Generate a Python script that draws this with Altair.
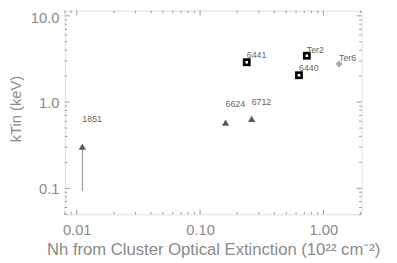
import altair as alt
import pandas as pd

# ---- data ----
names = ["1851", "6624", "6712", "6441", "Ter2", "6440", "Ter6"]
nh = [0.0111, 0.161, 0.262, 0.239, 0.734, 0.634, 1.34]
kt = [0.305, 0.58, 0.64, 2.9, 3.45, 2.05, 2.76]
kind = ["tri", "tri", "tri", "sq", "sq", "sq", "dia"]
label_kt = [0.64, 0.95, 1.0, 3.53, 4.0, 2.5, 3.28]

# lower-limit line for 1851
err_nh = [0.0111]
err_lo = [0.093]
err_hi = [0.305]

x_major = [0.01, 0.1, 1.0]
x_minor = [0.008, 0.009, 0.02, 0.03, 0.04, 0.05, 0.06, 0.07, 0.08, 0.09,
           0.2, 0.3, 0.4, 0.5, 0.6, 0.7, 0.8, 0.9, 2.0]
y_major = [0.1, 1.0, 10.0]
y_minor = [0.05, 0.06, 0.07, 0.08, 0.09, 0.2, 0.3, 0.4, 0.5, 0.6, 0.7, 0.8, 0.9,
           2, 3, 4, 5, 6, 7, 8, 9]

x_domain = [0.008, 2.04]
y_domain = [0.05, 11.5]

W, H = 303, 208
GRAY = "#9a9a9a"
TXT = "#8a8a8a"
FONT = "Liberation Sans"

df = pd.DataFrame({"name": names, "nh": nh, "kt": kt, "kind": kind, "lkt": label_kt})

xs = alt.Scale(type="log", domain=x_domain, nice=False)
ys = alt.Scale(type="log", domain=y_domain, nice=False)

x_axis = alt.Axis(values=x_major, format=".2f", grid=False, ticks=False, domain=False,
                  labelFont=FONT, labelFontSize=15, labelColor=TXT, labelPadding=9,
                  title="Nh from Cluster Optical Extinction (10²² cm⁻²)",
                  titleFont=FONT, titleFontSize=17, titleFontWeight="normal",
                  titleColor=TXT, titleY=36, titleBaseline="middle")
y_axis = alt.Axis(values=y_major, format=".1f", grid=False, ticks=False, domain=False,
                  labelFont=FONT, labelFontSize=15, labelColor=TXT, labelPadding=6,
                  labelOffset={"condition": {"test": "datum.value > 5", "value": 2}, "value": 0},
                  title="kTin (keV)", titleFont=FONT, titleFontSize=15,
                  titleFontWeight="normal", titleColor=TXT,
                  titleX=-50, titleY=100, titleBaseline="middle", titleAlign="center")


def X(field):
    return alt.X(field, scale=xs, axis=x_axis)


def Y(field):
    return alt.Y(field, scale=ys, axis=y_axis)


base = alt.Chart(df)

err = alt.Chart(pd.DataFrame({"nh": err_nh, "kt": err_lo, "hi": err_hi})).mark_rule(
    color="#8a8a8a", strokeWidth=1).encode(x=X("nh:Q"), y=Y("kt:Q"), y2="hi:Q")

tri = base.transform_filter("datum.kind == 'tri'").mark_point(
    shape="triangle-up", filled=True, color="#5a5a5a", size=55, opacity=1).encode(
    x=X("nh:Q"), y=Y("kt:Q"))

sq_outer = base.transform_filter("datum.kind == 'sq'").mark_point(
    shape="square", filled=True, color="#000000", size=64, opacity=1).encode(
    x=X("nh:Q"), y=Y("kt:Q"))
sq_inner = base.transform_filter("datum.kind == 'sq'").mark_point(
    shape="square", filled=True, color="#ffffff", size=7, opacity=1).encode(
    x=X("nh:Q"), y=Y("kt:Q"))

dia = base.transform_filter("datum.kind == 'dia'").mark_point(
    shape="diamond", filled=True, color="#a8a8a8", size=50, opacity=1).encode(
    x=X("nh:Q"), y=Y("kt:Q"))

labels = base.mark_text(align="left", baseline="middle", font=FONT, fontSize=9,
                        color="#666666").encode(
    x=X("nh:Q"), y=Y("lkt:Q"), text="name:N")


def xticks(vals, length):
    d = alt.Chart(pd.DataFrame({"nh": vals}))
    bottom = d.mark_rule(color=GRAY).encode(
        x=X("nh:Q"), y=alt.value(H), y2=alt.value(H - length))
    top = d.mark_rule(color=GRAY).encode(
        x=X("nh:Q"), y=alt.value(0), y2=alt.value(length))
    return [bottom, top]


def yticks(vals, length):
    d = alt.Chart(pd.DataFrame({"kt": vals}))
    left = d.mark_rule(color=GRAY).encode(
        y=Y("kt:Q"), x=alt.value(0), x2=alt.value(length))
    right = d.mark_rule(color=GRAY).encode(
        y=Y("kt:Q"), x=alt.value(W), x2=alt.value(W - length))
    return [left, right]


tick_layers = xticks(x_major, 5) + xticks(x_minor, 2.5) + yticks(y_major, 5) + yticks(y_minor, 2.5)

chart = alt.layer(*tick_layers, err, tri, sq_outer, sq_inner, dia, labels).properties(
    width=W, height=H,
    autosize=alt.AutoSizeParams(type="none"),
    padding={"left": 58, "top": 0, "right": 28, "bottom": 47},
).configure_view(stroke=GRAY, strokeWidth=1).configure(background="white")

chart.save("out.html", embed_options={"renderer": "svg", "actions": False})
